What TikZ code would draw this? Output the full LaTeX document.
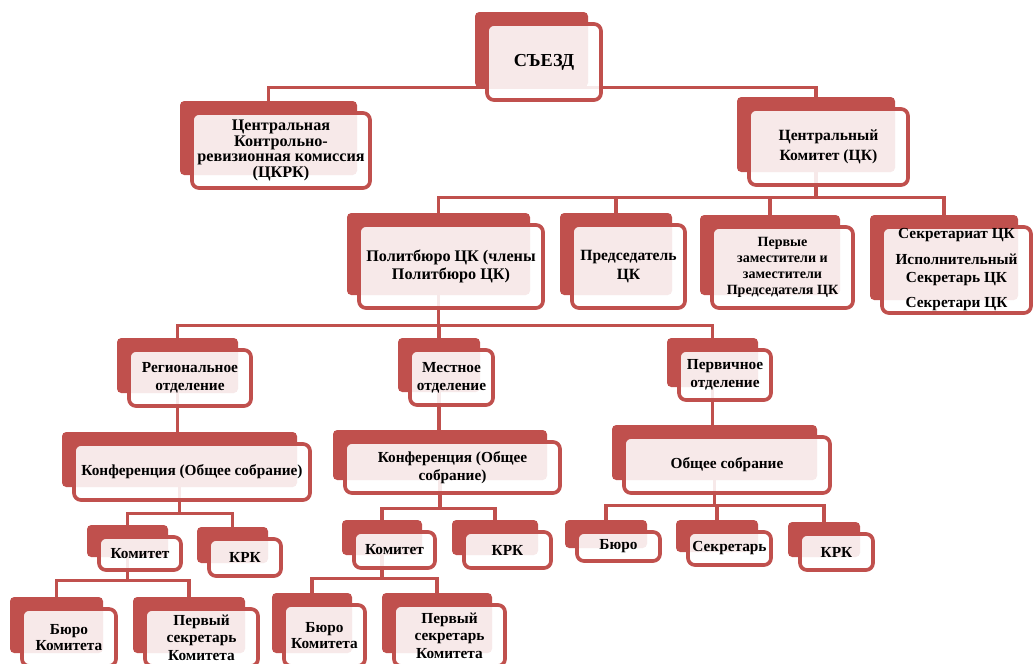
\documentclass[tikz,border=0pt]{standalone}
\usepackage{fontspec}
\setmainfont{Liberation Serif}
\usepackage{tikz}
\usetikzlibrary{backgrounds}

\definecolor{boxred}{HTML}{C0504D}
\newdimen\px \px=0.025cm

% back plate + framed front card; the back plate carries the name
\newcommand{\orgbox}[7][]{%
  \node [backbox, minimum width={(#5-5)*\px}, minimum height={(#6-5)*\px}] (#2) at (#3-12.5,#4-12.5) {};
  \node [frontbox, minimum width={(#5-4)*\px}, minimum height={(#6-4)*\px}, #1] (#2-f) at (#3,#4) {#7};
}

\begin{document}
\begin{tikzpicture}[x=0.025cm, y=-0.025cm]

        % Define styles
        \tikzstyle{backbox} = [rectangle, fill=boxred, rounded corners=3pt, inner sep=0pt]
        \tikzstyle{frontbox} = [rectangle, draw=boxred, line width=2.6pt, fill=white, fill opacity=0.88, text opacity=1, rounded corners=5pt, inner sep=1pt, align=center, font=\bfseries\fontsize{10.9}{13}\selectfont]
        \tikzstyle{line} = [draw=boxred, line width=2.5pt]

        \clip (0,0) rectangle (1034,664);

        % Top level
        \orgbox[font=\bfseries\fontsize{13}{15}\selectfont]{congress}{544}{62}{118}{80}{СЪЕЗД}
        \orgbox[font=\bfseries\fontsize{11.5}{11.2}\selectfont]{ckrk}{281}{150.5}{182}{79}{Центральная\\Контрольно-\\ревизионная комиссия\\(ЦКРК)}
        \orgbox[font=\bfseries\fontsize{11.1}{14}\selectfont]{ck}{828.5}{147}{163}{80}{Центральный\\Комитет (ЦК)}

        % Central Committee bodies
        \orgbox[font=\bfseries\fontsize{11.5}{12.8}\selectfont]{politburo}{451}{266.5}{188}{87}{Политбюро ЦК (члены\\Политбюро ЦК)}
        \orgbox[font=\bfseries\fontsize{11.1}{13}\selectfont]{chair}{628.5}{266.5}{117}{87}{Председатель\\ЦК}
        \orgbox[font=\bfseries\fontsize{10}{11.4}\selectfont]{deputies}{782.5}{267.5}{145}{85}{Первые\\заместители и\\заместители\\Председателя ЦК}
        \orgbox{secretariat}{956.5}{270}{153}{90}{Секретариат ЦК\\[5pt]Исполнительный\\Секретарь ЦК\\[5pt]Секретари ЦК}

        % Branches
        \orgbox{regional}{190}{378}{126}{60}{Региональное\\отделение}
        \orgbox{local}{451.5}{377.5}{87}{59}{Местное\\отделение}
        \orgbox{primary}{725}{375}{96}{54}{Первичное\\отделение}

        % Assemblies
        \orgbox{regconf}{192}{472}{240}{60}{Конференция (Общее собрание)}
        \orgbox{locconf}{452.5}{467.5}{219}{55}{Конференция (Общее\\собрание)}
        \orgbox{primconf}{727}{465}{210}{60}{Общее собрание}

        % Regional branch bodies
        \orgbox{regcom}{140}{553.5}{86}{37}{Комитет}
        \orgbox{regkrk}{245}{557.5}{76}{41}{КРК}
        \orgbox[font=\bfseries\fontsize{10.9}{11.6}\selectfont]{regbureau}{69}{637.5}{98}{61}{Бюро\\Комитета}
        \orgbox[font=\bfseries\fontsize{10.9}{12.4}\selectfont]{regfirst}{201.5}{637.5}{117}{61}{Первый\\секретарь\\Комитета}

        % Local branch bodies
        \orgbox{loccom}{394.5}{550}{85}{40}{Комитет}
        \orgbox{lockrk}{507.5}{550}{91}{40}{КРК}
        \orgbox[font=\bfseries\fontsize{10.9}{11.6}\selectfont]{locbureau}{324.5}{635.5}{85}{65}{Бюро\\Комитета}
        \orgbox[font=\bfseries\fontsize{10.9}{12.4}\selectfont]{locfirst}{449.5}{635.5}{115}{65}{Первый\\секретарь\\Комитета}

        % Primary branch bodies
        \orgbox{primbureau}{618.5}{546.5}{87}{33}{Бюро}
        \orgbox{primsecr}{729.5}{548.5}{87}{37}{Секретарь}
        \orgbox{primkrk}{836.5}{552}{77}{40}{КРК}

        % Draw edges
        \begin{scope}[on background layer]
            \path [line] (ckrk.north) |- (congress.south) -| (ck.north);

            \path (ck.south) ++(0,25) coordinate (ckbar);
            \foreach \c in {politburo, chair, deputies, secretariat}
                \path [line] (ck.south) -- (ckbar) -| (\c.north);

            \path (politburo.south) ++(0,30) coordinate (pbbar);
            \foreach \c in {regional, local, primary}
                \path [line] (politburo.south) -- (pbbar) -| (\c.north);

            \path [line] (regional.south) -- (regional.south |- regconf.north);
            \path [line] (local.south) -- (local.south |- locconf.north);
            \path [line] (primary.south) -- (primary.south |- primconf.north);

            \path (regconf.south) ++(0,26) coordinate (rcbar);
            \foreach \c in {regcom, regkrk}
                \path [line] (regconf.south) -- (rcbar) -| (\c.north);
            \path (regcom.south) ++(0,23) coordinate (rmbar);
            \foreach \c in {regbureau, regfirst}
                \path [line] (regcom.south) -- (rmbar) -| (\c.north);

            \path (locconf.south) ++(0,28) coordinate (lcbar);
            \foreach \c in {loccom, lockrk}
                \path [line] (locconf.south) -- (lcbar) -| (\c.north);
            \path (loccom.south) ++(0,23) coordinate (lmbar);
            \foreach \c in {locbureau, locfirst}
                \path [line] (loccom.south) -- (lmbar) -| (\c.north);

            \path (primconf.south) ++(0,25) coordinate (pcbar);
            \foreach \c in {primbureau, primsecr, primkrk}
                \path [line] (primconf.south) -- (pcbar) -| (\c.north);
        \end{scope}

\end{tikzpicture}
\end{document}
